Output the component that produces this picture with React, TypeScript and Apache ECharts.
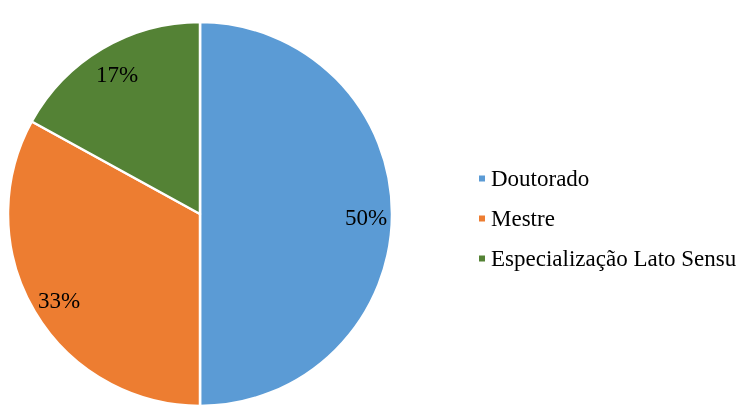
import React, { useEffect, useRef } from "react";
import * as echarts from "echarts";

const categories = ["Doutorado", "Mestre", "Especialização Lato Sensu"];
const values = [50, 33, 17];
const colors = ["#5B9BD5", "#ED7D31", "#548235"];

export default function App() {
  const ref = useRef<HTMLDivElement>(null);
  useEffect(() => {
    if (!ref.current) return;
    const chart = echarts.init(ref.current, undefined, { renderer: "svg" });
    const data = categories.map((name, i) => ({ name, value: values[i], itemStyle: { color: colors[i] } }));
    chart.setOption({
      animation: false,
      legend: {
        orient: "vertical",
        left: 472,
        top: 162,
        itemWidth: 8,
        itemHeight: 8,
        itemGap: 17,
        icon: "rect",
        data: categories,
        textStyle: {
          fontFamily: "'Liberation Serif', 'Times New Roman', serif",
          fontSize: 23,
          color: "#000",
          padding: [0, 0, 0, 0],
        },
      },
      series: [
        {
          type: "pie",
          center: [200, 214],
          radius: 192,
          startAngle: 90,
          clockwise: true,
          label: { show: false },
          labelLine: { show: false },
          itemStyle: { borderColor: "#fff", borderWidth: 2.5 },
          emphasis: { disabled: true },
          data,
        },
        {
          type: "pie",
          center: [201, 217],
          radius: [131, 193],
          startAngle: 90,
          clockwise: true,
          silent: true,
          itemStyle: { color: "rgba(0,0,0,0)", borderWidth: 0 },
          label: {
            show: true,
            position: "inside",
            formatter: "{c}%",
            fontFamily: "'Liberation Serif', 'Times New Roman', serif",
            fontSize: 23,
            color: "#000",
          },
          labelLine: { show: false },
          emphasis: { disabled: true },
          data: categories.map((name, i) => ({ name, value: values[i] })),
        },
      ],
    });
    return () => chart.dispose();
  }, []);
  return <div ref={ref} style={{ position: "fixed", left: 0, top: 0, width: 736, height: 413 }} />;
}
